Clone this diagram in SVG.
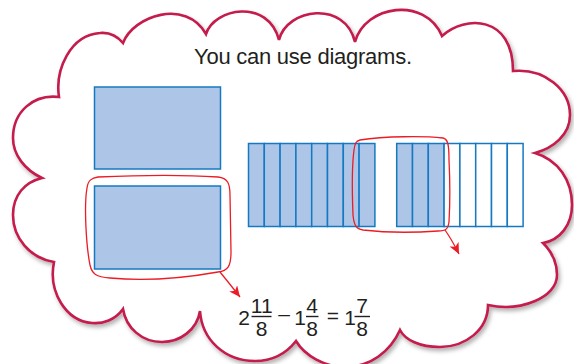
<svg xmlns="http://www.w3.org/2000/svg" width="574" height="364" viewBox="0 0 574 364">
<defs>
<style>
.cloud{fill:#fff;stroke:#c41a4c;stroke-width:2.6;stroke-linejoin:miter}
.sh{fill:#adc6e7;stroke:#1479c2;stroke-width:1.5}
.wh{fill:#fff;stroke:#1479c2;stroke-width:1.5}
.bub{fill:none;stroke:#ec1c24;stroke-width:1.3}
.arr{fill:none;stroke:#ec1c24;stroke-width:1.3}
.t{font-family:"Liberation Sans",Arial,sans-serif;fill:#231f20}
.n{font-family:"Liberation Sans",Arial,sans-serif;fill:#231f20;font-size:21px;text-anchor:middle}
.bar{stroke:#231f20;stroke-width:1.4}
</style>
<filter id="shadow" x="-5%" y="-5%" width="110%" height="115%">
<feDropShadow dx="2" dy="3" stdDeviation="2" flood-color="#000" flood-opacity="0.3"/>
</filter>
<marker id="ah" markerUnits="userSpaceOnUse" markerWidth="14" markerHeight="12" refX="11" refY="5" orient="auto">
<path d="M0,0 L11,5 L0,10 L3,5 Z" fill="#ec1c24"/>
</marker>
</defs>
<g id="cloud">
<path class="cloud" filter="url(#shadow)" d="M123,43 C133,16 186,-2 206,34 C214,8 268,-2 279,40 C287,8 345,0 355,42 C365,5 425,-4 442,36 C465,15 513,15 513,71 C545,68 570,90 570,115 C570,135 553,148 535,153 C558,160 572,180 572,205 C572,225 560,240 543,243 C552,252 557,262 557,275 C557,298 520,312 488,305 C488,330 465,347 440,347 C420,347 405,340 400,330 C390,352 370,367 345,367 C325,367 305,356 296,341 C285,355 272,361 255,361 C225,361 202,340 200,311 C197,330 180,342 162,342 C142,342 126,328 123,309 C115,320 103,324 92,323 C66,321 48,292 54,262 C30,258 13,238 13,215 C13,195 25,182 42,178 C25,170 13,155 13,138 C13,112 33,94 59,97 C55,70 70,35 100,33 C110,32 118,37 123,43 Z"/>
</g>
<g id="title">
<text class="t" x="303" y="64" font-size="22" text-anchor="middle" textLength="218">You can use diagrams.</text>
</g>
<g id="rect-top">
<rect class="sh" x="94.5" y="87" width="126" height="82"/>
</g>
<g id="rect-bottom">
<rect class="sh" x="94.5" y="186" width="126" height="83"/>
<path class="bub" d="M98,177 C140,175 190,175 218,177 C228,178 230,184 230,195 L231,252 C231,266 228,271 218,272 C190,277 150,282 110,278 C96,277 92,274 90,265 C86,245 84,205 87,188 C88,180 92,178 98,177 Z"/>
</g>
<g id="bar-left">
<rect class="sh" x="248.5" y="143.5" width="15.8" height="83"/>
<rect class="sh" x="264.3" y="143.5" width="15.8" height="83"/>
<rect class="sh" x="280.1" y="143.5" width="15.8" height="83"/>
<rect class="sh" x="295.9" y="143.5" width="15.8" height="83"/>
<rect class="sh" x="311.7" y="143.5" width="15.8" height="83"/>
<rect class="sh" x="327.5" y="143.5" width="15.8" height="83"/>
<rect class="sh" x="343.3" y="143.5" width="15.8" height="83"/>
<rect class="sh" x="359.1" y="143.5" width="15.8" height="83"/>
</g>
<g id="bar-right">
<rect class="sh" x="396.7" y="143.5" width="15.8" height="83"/>
<rect class="sh" x="412.5" y="143.5" width="15.8" height="83"/>
<rect class="sh" x="428.3" y="143.5" width="15.8" height="83"/>
<rect class="wh" x="444.1" y="143.5" width="15.8" height="83"/>
<rect class="wh" x="459.9" y="143.5" width="15.8" height="83"/>
<rect class="wh" x="475.7" y="143.5" width="15.8" height="83"/>
<rect class="wh" x="491.5" y="143.5" width="15.8" height="83"/>
<rect class="wh" x="507.3" y="143.5" width="15.8" height="83"/>
</g>
<g id="bars-bubble">
<path class="bub" d="M360,140 C385,136 425,136 443,138 C448,139 449,145 449,160 C450,180 450,205 449,222 C448,229 446,231 438,231 C410,233 380,232 363,230 C356,229 354,225 353,215 C352,190 352,165 354,150 C355,143 356,141 360,140 Z"/>
</g>
<g id="connectors">
<path class="arr" marker-end="url(#ah)" d="M220,272 Q229,283 240,297"/>
<path class="arr" marker-end="url(#ah)" d="M445,230 Q452,240 459,254"/>
</g>
<g id="equation">
<text class="n" x="244" y="324.5">2</text>
<text class="n" x="261.7" y="312.5">11</text>
<line class="bar" x1="251.5" y1="316.5" x2="271.5" y2="316.5"/>
<text class="n" x="261.7" y="336">8</text>
<text class="n" x="284" y="320.5">–</text>
<text class="n" x="300" y="324.5">1</text>
<text class="n" x="312" y="312.5">4</text>
<line class="bar" x1="306" y1="316.5" x2="318.5" y2="316.5"/>
<text class="n" x="312" y="336">8</text>
<text class="n" x="333" y="322.5">=</text>
<text class="n" x="350" y="324.5">1</text>
<text class="n" x="362" y="312.5">7</text>
<line class="bar" x1="354.5" y1="316.5" x2="370" y2="316.5"/>
<text class="n" x="362" y="336">8</text>
</g>
</svg>
